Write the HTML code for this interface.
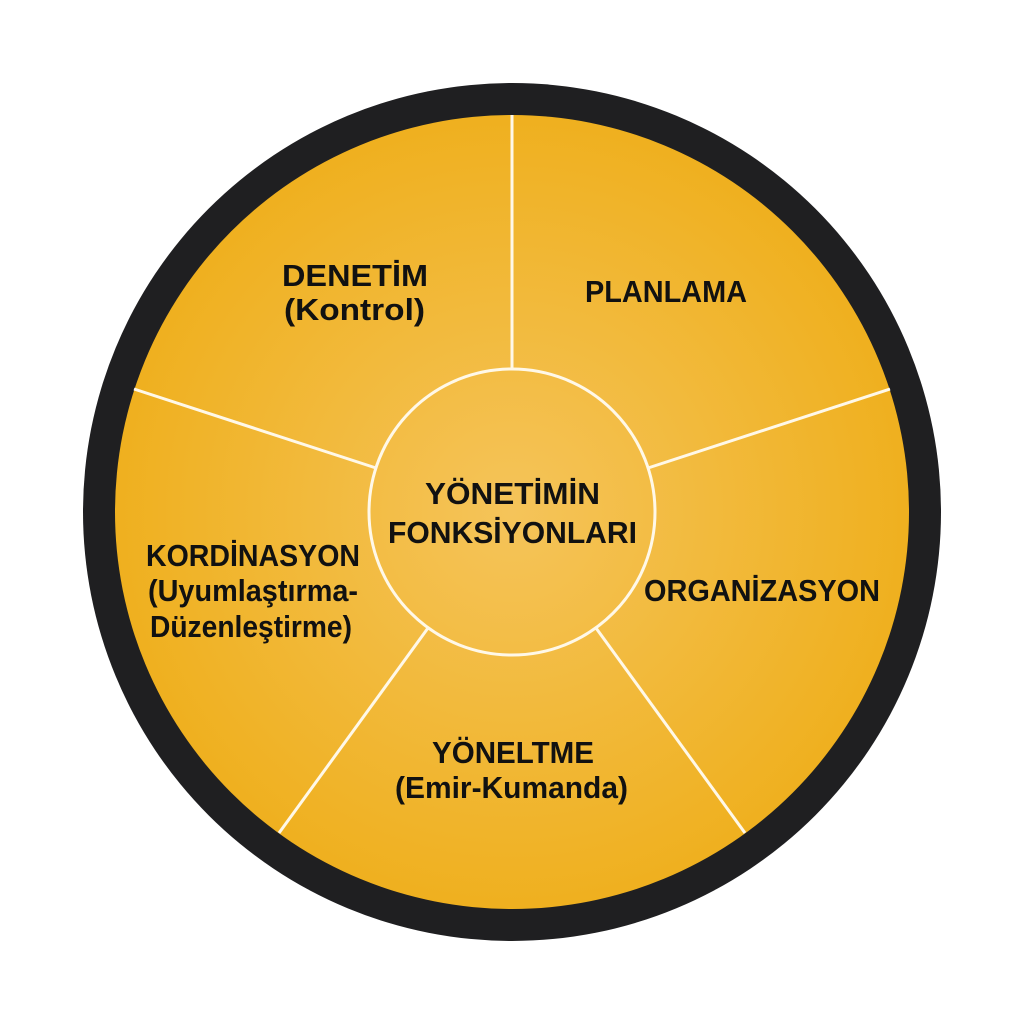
<!DOCTYPE html>
<html><head><meta charset="utf-8"><style>html,body{margin:0;padding:0;background:#fff}svg{display:block}</style></head>
<body>
<svg width="1024" height="1024" viewBox="0 0 1024 1024" xmlns="http://www.w3.org/2000/svg">
<defs>
<radialGradient id="g" cx="512" cy="512" r="397" gradientUnits="userSpaceOnUse">
<stop offset="0" stop-color="#f5c45a"/><stop offset="1" stop-color="#efb01f"/>
</radialGradient>
</defs>
<circle cx="512" cy="512" r="429" fill="#1f1f21"/>
<circle cx="512" cy="512" r="397" fill="url(#g)"/>
<g stroke="#fff8e8" stroke-width="3">
<line x1="512" y1="369" x2="512" y2="115"/>
<line x1="648" y1="468" x2="890" y2="389"/>
<line x1="596" y1="628" x2="745" y2="833"/>
<line x1="428" y1="628" x2="279" y2="833"/>
<line x1="376" y1="468" x2="134" y2="389"/>
</g>
<circle cx="512" cy="512" r="143" fill="url(#g)" stroke="#fff8e8" stroke-width="3"/>
<g font-family="Liberation Sans, sans-serif" font-weight="bold" font-size="31" fill="#111" lengthAdjust="spacingAndGlyphs">
<text x="425" y="504" textLength="175" lengthAdjust="spacingAndGlyphs">YÖNETİMİN</text>
<text x="388" y="543" textLength="249" lengthAdjust="spacingAndGlyphs">FONKSİYONLARI</text>
<text x="585" y="302" textLength="162" lengthAdjust="spacingAndGlyphs">PLANLAMA</text>
<text x="282" y="286" textLength="146" lengthAdjust="spacingAndGlyphs">DENETİM</text>
<text x="284" y="320" textLength="141" lengthAdjust="spacingAndGlyphs">(Kontrol)</text>
<text x="146" y="566" textLength="214" lengthAdjust="spacingAndGlyphs">KORDİNASYON</text>
<text x="148" y="601" textLength="210" lengthAdjust="spacingAndGlyphs">(Uyumlaştırma-</text>
<text x="150" y="637" textLength="202" lengthAdjust="spacingAndGlyphs">Düzenleştirme)</text>
<text x="644" y="601" textLength="236" lengthAdjust="spacingAndGlyphs">ORGANİZASYON</text>
<text x="432" y="763" textLength="162" lengthAdjust="spacingAndGlyphs">YÖNELTME</text>
<text x="395" y="798" textLength="233" lengthAdjust="spacingAndGlyphs">(Emir-Kumanda)</text>
</g>
</svg>
</body></html>
